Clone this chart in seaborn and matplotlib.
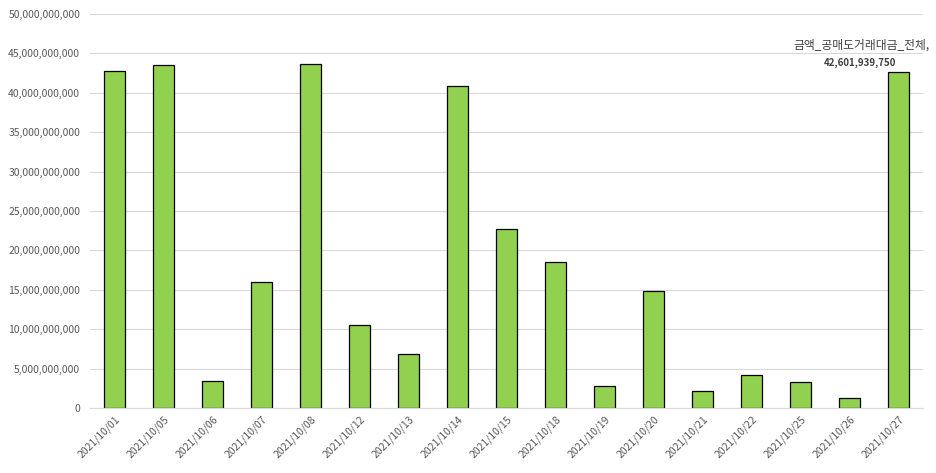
import numpy as np
import pandas as pd
import matplotlib
matplotlib.use("Agg")
import matplotlib.pyplot as plt
import matplotlib.ticker as mticker
import seaborn as sns

# 데이터
dates = ["2021/10/01", "2021/10/05", "2021/10/06", "2021/10/07", "2021/10/08",
         "2021/10/12", "2021/10/13", "2021/10/14", "2021/10/15", "2021/10/18",
         "2021/10/19", "2021/10/20", "2021/10/21", "2021/10/22", "2021/10/25",
         "2021/10/26", "2021/10/27"]
amounts = [42.77e9, 43.53e9, 3.43e9, 15.99e9, 43.65e9,
           10.53e9, 6.85e9, 40.86e9, 22.72e9, 18.53e9,
           2.79e9, 14.85e9, 2.16e9, 4.19e9, 3.30e9,
           1.27e9, 42601939750]
series_name = "금액_공매도거래대금_전체"

df = pd.DataFrame({"Date": dates, "Amount": amounts})

sns.set_style("white")
plt.rcParams["font.family"] = ["Noto Sans CJK KR", "DejaVu Sans"]

fig = plt.figure(figsize=(9.36, 4.73), dpi=100)
ax = fig.add_axes([90 / 936, 1 - 408 / 473, 833 / 936, 394 / 473])

sns.barplot(data=df, x="Date", y="Amount", color="#92d050", width=0.42,
            edgecolor="black", linewidth=0.9, saturation=1, ax=ax)

ax.set_ylim(0, 50e9)
ax.set_xlim(-0.5, len(dates) - 0.5)
ax.yaxis.set_major_locator(mticker.MultipleLocator(5e9))
ax.yaxis.set_major_formatter(mticker.FuncFormatter(lambda v, p: f"{v:,.0f}"))
ax.grid(axis="y", color="#d9d9d9", linewidth=0.8)
ax.set_axisbelow(True)
for s in ["top", "right", "left"]:
    ax.spines[s].set_visible(False)
ax.spines["bottom"].set_color("#d9d9d9")
ax.set_xlabel("")
ax.set_ylabel("")
ax.tick_params(axis="y", length=0, labelsize=7.5, labelcolor="#595959", pad=7)
ax.tick_params(axis="x", length=0, labelsize=7.5, labelcolor="#595959", pad=4)
plt.setp(ax.get_xticklabels(), rotation=45, ha="right", rotation_mode="anchor")

# 마지막 막대 데이터 레이블
last = len(dates) - 1
ax.annotate(f"{series_name},", xy=(last, amounts[last]), xytext=(-27, 17),
            textcoords="offset points", ha="center", fontsize=8.5,
            color="#404040", fontweight="medium", annotation_clip=False)
ax.annotate(f"{amounts[last]:,.0f}", xy=(last, amounts[last]), xytext=(-28, 5),
            textcoords="offset points", ha="center", fontsize=7,
            color="#404040", fontweight="bold")

fig.savefig("out.png", dpi=100)
